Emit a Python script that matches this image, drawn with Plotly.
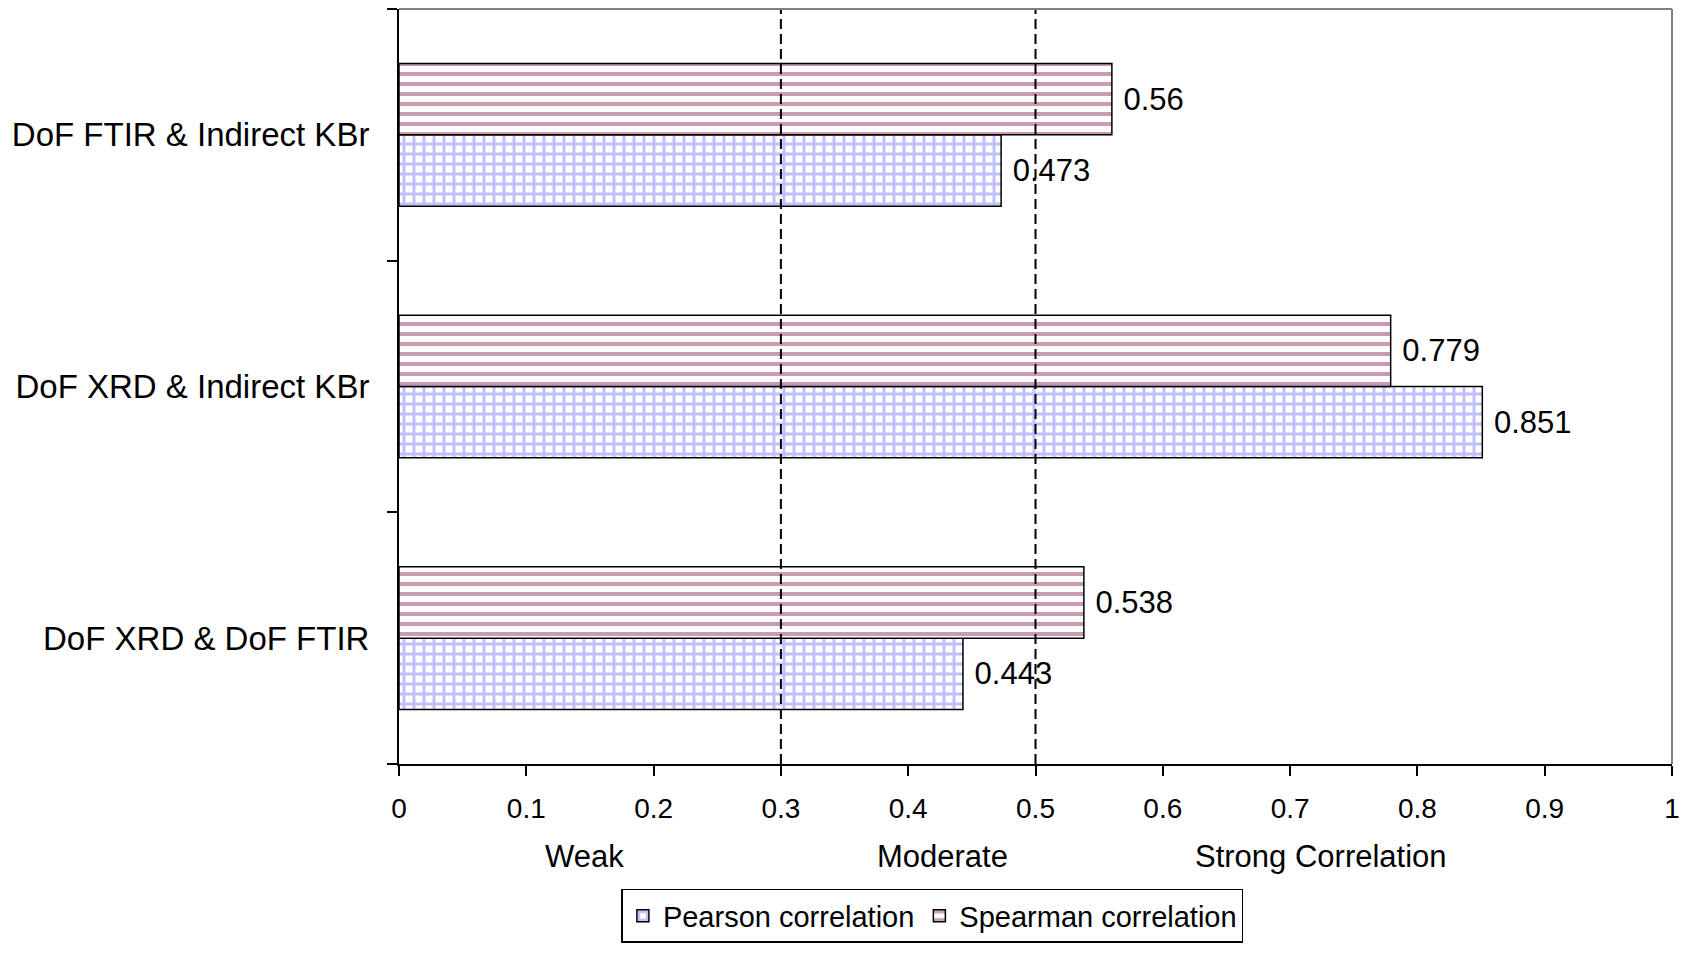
import plotly.graph_objects as go

categories = ["DoF XRD & DoF FTIR", "DoF XRD & Indirect KBr", "DoF FTIR & Indirect KBr"]
pearson = [0.443, 0.851, 0.473]
spearman = [0.538, 0.779, 0.56]
x_ticks = [0, 0.1, 0.2, 0.3, 0.4, 0.5, 0.6, 0.7, 0.8, 0.9, 1]
x_ticklabels = ["0", "0.1", "0.2", "0.3", "0.4", "0.5", "0.6", "0.7", "0.8", "0.9", "1"]
thresholds = [0.3, 0.5]
zone_labels = ["Weak", "Moderate", "Strong Correlation"]
zone_positions = [0.146, 0.427, 0.724]

FONT = "Liberation Sans, Arial, sans-serif"

fig = go.Figure()
fig.add_trace(go.Bar(
    y=categories, x=pearson, orientation="h", name="Pearson correlation",
    marker=dict(color="white", line=dict(color="black", width=1.5),
                pattern=dict(shape="+", fgcolor="#8080ff", bgcolor="white", size=10, solidity=0.5)),
    texttemplate=" %{x}", textposition="outside", cliponaxis=False,
    textfont=dict(size=31, color="black", family=FONT),
))
fig.add_trace(go.Bar(
    y=categories, x=spearman, orientation="h", name="Spearman correlation",
    marker=dict(color="white", line=dict(color="black", width=1.5),
                pattern=dict(shape="-", fgcolor="#993366", bgcolor="white", size=10, solidity=0.4)),
    texttemplate=" %{x}", textposition="outside", cliponaxis=False,
    textfont=dict(size=31, color="black", family=FONT),
))

shapes = []
for t in thresholds:
    shapes.append(dict(type="line", xref="x", yref="paper", x0=t, x1=t, y0=0, y1=1,
                       line=dict(color="black", width=2, dash="10px,5px"), layer="above"))
shapes.append(dict(type="line", xref="paper", yref="paper", x0=0, x1=1, y0=1, y1=1,
                   line=dict(color="#808080", width=2), layer="above"))
shapes.append(dict(type="line", xref="paper", yref="paper", x0=1, x1=1, y0=0, y1=1,
                   line=dict(color="#808080", width=2), layer="above"))

annotations = []
for lab, pos in zip(zone_labels, zone_positions):
    annotations.append(dict(text=lab, x=pos, xref="x", y=-0.123, yref="paper",
                            showarrow=False, xanchor="center", yanchor="middle",
                            font=dict(size=31, color="black", family=FONT)))

fig.update_layout(
    width=1690, height=953,
    margin=dict(l=399, r=18, t=9, b=189),
    paper_bgcolor="white", plot_bgcolor="white",
    barmode="group", bargap=0.433, bargroupgap=0,
    font=dict(family=FONT, size=28, color="black"),
    showlegend=True,
    legend=dict(orientation="h", x=0.419, xanchor="center", y=-0.237, yanchor="bottom",
                bordercolor="black", borderwidth=1.5, bgcolor="white",
                font=dict(size=29, family=FONT), traceorder="normal",
                itemwidth=30, tracegroupgap=0),
    shapes=shapes, annotations=annotations,
    xaxis=dict(range=[0, 1], tickvals=x_ticks, ticktext=x_ticklabels,
               showgrid=False, zeroline=False, showline=True, linecolor="black", linewidth=2,
               ticks="outside", ticklen=10, tickwidth=2, tickcolor="black",
               tickfont=dict(size=28, family=FONT), ticklabelstandoff=8),
    yaxis=dict(categoryorder="array", categoryarray=categories,
               showgrid=False, zeroline=False, showline=True, linecolor="black", linewidth=2,
               ticks="outside", ticklen=10, tickwidth=2, tickcolor="black", tickson="boundaries",
               tickfont=dict(size=33, family=FONT), ticklabelstandoff=21),
)

fig.write_html("out.html")
